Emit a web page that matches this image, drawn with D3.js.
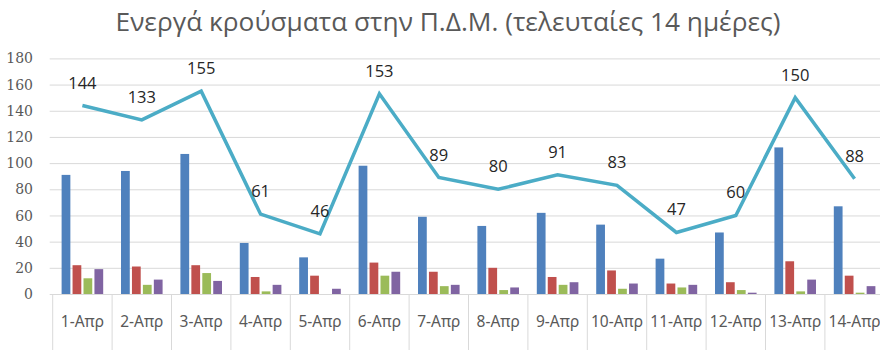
<!DOCTYPE html>
<html>
<head>
<meta charset="utf-8">
<script src="https://cdn.jsdelivr.net/npm/d3@7"></script>
<style>
  html, body { margin: 0; padding: 0; background: #ffffff; }
  svg { display: block; }
</style>
</head>
<body>
<svg id="chart" width="880" height="350"></svg>
<script>
// Daily dates (April)
const categories = ["1-Απρ","2-Απρ","3-Απρ","4-Απρ","5-Απρ","6-Απρ","7-Απρ","8-Απρ","9-Απρ","10-Απρ","11-Απρ","12-Απρ","13-Απρ","14-Απρ"];

// Active cases per regional unit (four bar series)
const seriesBlue   = [91, 94, 107, 39, 28, 98, 59, 52, 62, 53, 27, 47, 112, 67];
const seriesRed    = [22, 21, 22, 13, 14, 24, 17, 20, 13, 18, 8, 9, 25, 14];
const seriesGreen  = [12, 7, 16, 2, 0, 14, 6, 3, 7, 4, 5, 3, 2, 1];
const seriesPurple = [19, 11, 10, 7, 4, 17, 7, 5, 9, 8, 7, 1, 11, 6];

// Total active cases (line with labels)
const totals = [144, 133, 155, 61, 46, 153, 89, 80, 91, 83, 47, 60, 150, 88];

const yTicks = [0, 20, 40, 60, 80, 100, 120, 140, 160, 180];

const barSeries = [
  { values: seriesBlue,   color: "#4f81bd" },
  { values: seriesRed,    color: "#c0504d" },
  { values: seriesGreen,  color: "#9bbb59" },
  { values: seriesPurple, color: "#8064a2" }
];

const svg = d3.select("#chart");
const plotLeft = 52.7, plotRight = 884.3, plotTop = 58.4, plotBottom = 294;

const x = d3.scaleBand().domain(categories).range([plotLeft, plotRight]).padding(0);
const y = d3.scaleLinear().domain([0, 180]).range([plotBottom, plotTop]);
const xs = d3.scaleBand().domain(d3.range(barSeries.length))
  .range([0.15 * x.bandwidth(), 0.85 * x.bandwidth()]).paddingInner(0.2);

// Title
const title = svg.append("text")
  .attr("x", 448).attr("y", 31)
  .attr("text-anchor", "middle")
  .attr("fill", "#595959")
  .style("font-family", "'Open Sans', 'Noto Sans', sans-serif")
  .style("font-size", "22px")
  .text("Ενεργά κρούσματα στην Π.Δ.Μ. (τελευταίες 14 ημέρες)");
{
  const w = title.node().getComputedTextLength();
  title.style("font-size", (22 * 665 / w).toFixed(2) + "px");
}

// Horizontal gridlines
svg.append("g")
  .attr("transform", `translate(${plotLeft - 3},0)`)
  .call(d3.axisLeft(y).tickValues(yTicks).tickSize(-(880 - plotLeft + 3)).tickFormat(""))
  .call(g => g.select(".domain").remove())
  .call(g => g.selectAll(".tick line").attr("stroke", "#d9d9d9").attr("stroke-width", 1));

// Y tick labels
svg.append("g").selectAll("text")
  .data(yTicks).join("text")
  .attr("x", 33).attr("y", d => y(d))
  .attr("dy", "0.36em")
  .attr("text-anchor", "end")
  .attr("fill", "#595959")
  .style("font-family", "'DejaVu Serif', serif")
  .style("font-size", "14px")
  .text(d => d);

// Category dividers below the axis
const bounds = categories.map(c => x(c)).concat([plotRight]);
svg.append("g").selectAll("line")
  .data(bounds).join("line")
  .attr("x1", d => d).attr("x2", d => d)
  .attr("y1", plotBottom).attr("y2", 350)
  .attr("stroke", "#d9d9d9").attr("stroke-width", 1);

// Category labels
svg.append("g").selectAll("text")
  .data(categories).join("text")
  .attr("x", d => x(d) + x.bandwidth() / 2)
  .attr("y", 327)
  .attr("text-anchor", "middle")
  .attr("fill", "#595959")
  .style("font-family", "'Liberation Sans Narrow', 'Noto Sans', sans-serif")
  .style("font-size", "15.5px")
  .text(d => d);

// Bars
barSeries.forEach((s, si) => {
  svg.append("g").selectAll("rect")
    .data(s.values).join("rect")
    .attr("x", (d, i) => x(categories[i]) + xs(si))
    .attr("width", xs.bandwidth())
    .attr("y", d => y(d))
    .attr("height", d => plotBottom - y(d))
    .attr("fill", s.color);
});

// Totals line
const line = d3.line()
  .x((d, i) => x(categories[i]) + x.bandwidth() / 2)
  .y(d => y(d));
svg.append("path")
  .datum(totals)
  .attr("d", line)
  .attr("fill", "none")
  .attr("stroke", "#4bacc6")
  .attr("stroke-width", 3.5)
  .attr("stroke-linejoin", "miter");

// Totals labels
svg.append("g").selectAll("text")
  .data(totals).join("text")
  .attr("x", (d, i) => x(categories[i]) + x.bandwidth() / 2)
  .attr("y", d => y(d) - 17)
  .attr("text-anchor", "middle")
  .attr("fill", "#262626")
  .style("font-family", "'Open Sans', 'Noto Sans', sans-serif")
  .style("font-size", "16.5px")
  .text(d => d);
</script>
</body>
</html>
